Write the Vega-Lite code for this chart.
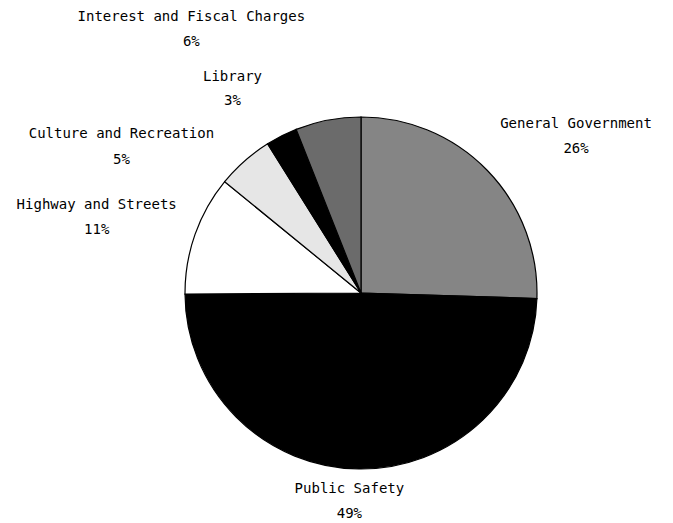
{
  "$schema": "https://vega.github.io/schema/vega-lite/v6.json",
  "width": 600,
  "height": 440,
  "autosize": {"type": "none"},
  "padding": {"left": 61, "top": 73, "right": 12, "bottom": 10},
  "background": "white",
  "config": {"view": {"stroke": null}},
  "data": {
    "values": [
      {"category": "General Government", "value": 25.5, "pct": "26%"},
      {"category": "Public Safety", "value": 49.4, "pct": "49%"},
      {"category": "Highway and Streets", "value": 11.0, "pct": "11%"},
      {"category": "Culture and Recreation", "value": 5.2, "pct": "5%"},
      {"category": "Library", "value": 2.9, "pct": "3%"},
      {"category": "Interest and Fiscal Charges", "value": 6.0, "pct": "6%"}
    ]
  },
  "transform": [
    {"stack": "value", "groupby": [], "as": ["v0", "v1"]},
    {"calculate": "(datum.v0 + datum.v1) / 2", "as": "mid"},
    {"calculate": "[datum.category, datum.pct]", "as": "lines"}
  ],
  "layer": [
    {
      "mark": {"type": "arc", "outerRadius": 176, "stroke": "#000000", "strokeWidth": 1.2},
      "encoding": {
        "theta": {"field": "v0", "type": "quantitative", "scale": {"domain": [0, 100]}},
        "theta2": {"field": "v1"},
        "color": {
          "field": "category",
          "type": "nominal",
          "scale": {
            "domain": ["General Government", "Public Safety", "Highway and Streets", "Culture and Recreation", "Library", "Interest and Fiscal Charges"],
            "range": ["#858585", "#000000", "#ffffff", "#e6e6e6", "#000000", "#6b6b6b"]
          },
          "legend": null
        }
      }
    },
    {
      "transform": [{"filter": "datum.category === 'Interest and Fiscal Charges'"}],
      "mark": {"type": "text", "font": "DejaVu Sans Mono", "fontSize": 14, "lineHeight": 25, "align": "center", "baseline": "middle", "color": "#000000", "dx": -120, "dy": -15.5},
      "encoding": {"theta": {"field": "mid", "type": "quantitative"}, "radius": {"value": 265}, "text": {"field": "lines", "type": "nominal"}}
    },
    {
      "transform": [{"filter": "datum.category === 'Library'"}],
      "mark": {"type": "text", "font": "DejaVu Sans Mono", "fontSize": 14, "lineHeight": 24, "align": "center", "baseline": "middle", "color": "#000000", "dx": -27, "dy": -15},
      "encoding": {"theta": {"field": "mid", "type": "quantitative"}, "radius": {"value": 225}, "text": {"field": "lines", "type": "nominal"}}
    },
    {
      "transform": [{"filter": "datum.category === 'Culture and Recreation'"}],
      "mark": {"type": "text", "font": "DejaVu Sans Mono", "fontSize": 14, "lineHeight": 26, "align": "center", "baseline": "middle", "color": "#000000", "dx": -61, "dy": 44},
      "encoding": {"theta": {"field": "mid", "type": "quantitative"}, "radius": {"value": 270}, "text": {"field": "lines", "type": "nominal"}}
    },
    {
      "transform": [{"filter": "datum.category === 'Highway and Streets'"}],
      "mark": {"type": "text", "font": "DejaVu Sans Mono", "fontSize": 14, "lineHeight": 25, "align": "center", "baseline": "middle", "color": "#000000", "dx": -5, "dy": 3.5},
      "encoding": {"theta": {"field": "mid", "type": "quantitative"}, "radius": {"value": 275}, "text": {"field": "lines", "type": "nominal"}}
    },
    {
      "transform": [{"filter": "datum.category === 'General Government'"}],
      "mark": {"type": "text", "font": "DejaVu Sans Mono", "fontSize": 14, "lineHeight": 25, "align": "center", "baseline": "middle", "color": "#000000", "dx": 24, "dy": 16.5},
      "encoding": {"theta": {"field": "mid", "type": "quantitative"}, "radius": {"value": 266}, "text": {"field": "lines", "type": "nominal"}}
    },
    {
      "transform": [{"filter": "datum.category === 'Public Safety'"}],
      "mark": {"type": "text", "font": "DejaVu Sans Mono", "fontSize": 14, "lineHeight": 25, "align": "center", "baseline": "middle", "color": "#000000", "dx": -9, "dy": -12},
      "encoding": {"theta": {"field": "mid", "type": "quantitative"}, "radius": {"value": 208}, "text": {"field": "lines", "type": "nominal"}}
    }
  ]
}
